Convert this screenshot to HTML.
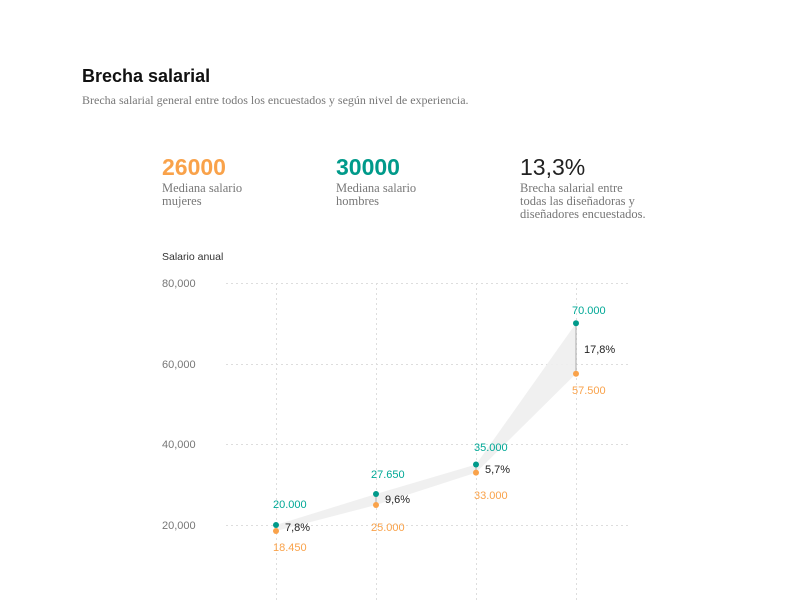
<!DOCTYPE html>
<html><head><meta charset="utf-8"><style>
body{margin:0;background:#fff;width:800px;height:600px;overflow:hidden;position:relative;font-family:"Liberation Sans",sans-serif}
.a{position:absolute;white-space:nowrap}
.serif{font-family:"Liberation Serif",serif;color:#777}
</style></head><body>
<div class="a" style="left:82px;top:66px;font-size:18px;font-weight:bold;color:#111">Brecha salarial</div>
<div class="a serif" style="left:82px;top:93px;font-size:12px">Brecha salarial general entre todos los encuestados y según nivel de experiencia.</div>
<div class="a" style="left:162px;top:154px;font-size:23px;font-weight:bold;color:#f9a24a">26000</div>
<div class="a serif" style="left:162px;top:182px;font-size:12.5px;line-height:13px">Mediana salario<br>mujeres</div>
<div class="a" style="left:336px;top:154px;font-size:23px;font-weight:bold;color:#009a8a">30000</div>
<div class="a serif" style="left:336px;top:182px;font-size:12.5px;line-height:13px">Mediana salario<br>hombres</div>
<div class="a" style="left:520px;top:154px;font-size:23px;color:#222">13,3%</div>
<div class="a serif" style="left:520px;top:182px;font-size:12.5px;line-height:13px">Brecha salarial entre<br>todas las diseñadoras y<br>diseñadores encuestados.</div>
<svg class="a" style="left:0;top:0" width="800" height="600" font-family="Liberation Sans, sans-serif">
<text x="162" y="260" font-size="10.5" fill="#333">Salario anual</text>
<g stroke="#ddd" stroke-dasharray="2,3" stroke-width="1">
<line x1="226" x2="630" y1="283.5" y2="283.5"/><line x1="226" x2="630" y1="364.5" y2="364.5"/>
<line x1="226" x2="630" y1="444.5" y2="444.5"/><line x1="226" x2="630" y1="525.5" y2="525.5"/>
<line x1="276.5" x2="276.5" y1="283" y2="600"/><line x1="376.5" x2="376.5" y1="283" y2="600"/>
<line x1="476.5" x2="476.5" y1="283" y2="600"/><line x1="576.5" x2="576.5" y1="283" y2="600"/>
</g>
<g font-size="11" fill="#777"><text x="162" y="287">80,000</text><text x="162" y="368">60,000</text><text x="162" y="448">40,000</text><text x="162" y="529">20,000</text></g>
<polygon points="276,525 376,494 476,464.5 576,323.3 576,373.7 476,472.6 376,505 276,531" fill="#eeeeee" opacity="0.9"/>
<g stroke="#aaa" stroke-width="1"><line x1="276" x2="276" y1="525" y2="531"/><line x1="376" x2="376" y1="494" y2="505"/><line x1="476" x2="476" y1="464.5" y2="472.6"/><line x1="576" x2="576" y1="323.3" y2="373.7"/></g>
<g fill="#f9a24a"><circle cx="276" cy="531" r="3"/><circle cx="376" cy="505" r="3"/><circle cx="476" cy="472.6" r="3"/><circle cx="576" cy="373.7" r="3"/></g>
<g fill="#009a8a"><circle cx="276" cy="525" r="3"/><circle cx="376" cy="494" r="3"/><circle cx="476" cy="464.5" r="3"/><circle cx="576" cy="323.3" r="3"/></g>
<g font-size="11" fill="#00a896"><text x="273" y="508">20.000</text><text x="371" y="478">27.650</text><text x="474" y="451">35.000</text><text x="572" y="314">70.000</text></g>
<g font-size="11" fill="#f9a24a"><text x="273" y="551">18.450</text><text x="371" y="531">25.000</text><text x="474" y="499">33.000</text><text x="572" y="394">57.500</text></g>
<g font-size="11" fill="#222"><text x="285" y="531">7,8%</text><text x="385" y="503">9,6%</text><text x="485" y="473">5,7%</text><text x="584" y="353">17,8%</text></g>
</svg>
</body></html>
